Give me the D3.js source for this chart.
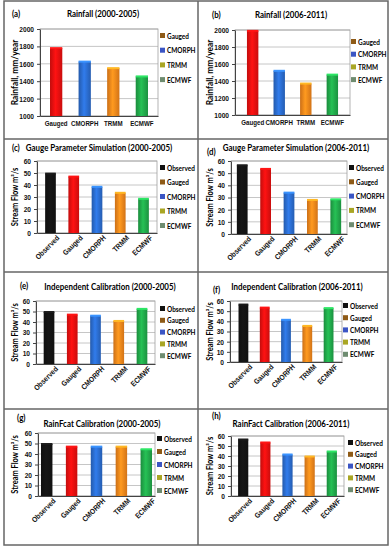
<!doctype html>
<html>
<head>
<meta charset="utf-8">
<script src="https://d3js.org/d3.v7.min.js"></script>
<style>
  body { margin: 0; background: #fff; }
  svg { font-family: Lato, "Liberation Sans", Arial, sans-serif; font-weight: bold; }
  .axis path, .axis line { stroke: #444; }
</style>
</head>
<body>
<div id="chart"></div>
<script>
// categories
const rainCats = ["Gauged", "CMORPH", "TRMM", "ECMWF"];
const flowCats = ["Observed", "Gauged", "CMORPH", "TRMM", "ECMWF"];

// values
const rainA = [1780, 1625, 1550, 1455];
const rainB = [1990, 1520, 1370, 1475];
const flowC = [49.5, 47, 38.5, 33.5, 28.5];
const flowD = [56.5, 53.5, 34, 28, 28.5];
const flowE = [49.5, 47, 46, 41, 52.5];
const flowF = [56.5, 53.5, 41.5, 35.5, 53];
const flowG = [49.5, 47, 47, 47, 44.5];
const flowH = [56.5, 53.5, 41.5, 39.5, 44.5];

const rainTicks = [1000, 1200, 1400, 1600, 1800, 2000];
const flowTicks = [0, 10, 20, 30, 40, 50, 60];

const letters = ["(a)", "(b)", "(c)", "(d)", "(e)", "(f)", "(g)", "(h)"];
const titles = ["Rainfall  (2000-2005)", "Rainfall (2006-2011)",
  "Gauge Parameter Simulation (2000-2005)", "Gauge Parameter Simulation (2006-2011)",
  "Independent Calibration (2000-2005)", "Independent Calibration (2006-2011)",
  "RainFcat Calibration (2000-2005)", "RainFact  Calibration (2006-2011)"];

// colours
const barColor = {Observed: "#141414", Gauged: "#f01010", CMORPH: "#2c6fd4", TRMM: "#fb8a1c", ECMWF: "#22ad4c"};
const keyColor = {Observed: "#111111", Gauged: "#8e5a16", CMORPH: "#3b55c4", TRMM: "#a9a624", ECMWF: "#6e8c70"};

// panel layout (absolute px)
const panels = [
  {cats: rainCats, vals: rainA, ticks: rainTicks, ylab: "Rainfall, mm/year", x0: 40, x1: 158, po: 0.35, top: 29, bot: 116, tx: 103, ty: 17, lx: 12, ly: 17, kx: 160, ky: 36, ks: 14.7, yl: 15, rot: false},
  {cats: rainCats, vals: rainB, ticks: rainTicks, ylab: "Rainfall, mm/year", x0: 235, x1: 350, po: 0.45, top: 30, bot: 115, tx: 291, ty: 18, lx: 212, ly: 18, kx: 351, ky: 42, ks: 12.7, yl: 210, rot: false},
  {cats: flowCats, vals: flowC, ticks: flowTicks, ylab: "Stream Flow m³/s", x0: 37, x1: 157, po: 0.35, top: 161, bot: 233, tx: 99, ty: 151, lx: 12, ly: 151, kx: 160, ky: 168, ks: 14.5, yl: 15, rot: true},
  {cats: flowCats, vals: flowD, ticks: flowTicks, ylab: "Stream Flow m³/s", x0: 231, x1: 347, po: 0.25, top: 161, bot: 234, tx: 296, ty: 151, lx: 207, ly: 155, kx: 349, ky: 168, ks: 14.3, yl: 210, rot: true},
  {cats: flowCats, vals: flowE, ticks: flowTicks, ylab: "Stream Flow m³/s", x0: 36, x1: 155, po: 0.33, top: 301, bot: 364, tx: 110, ty: 290, lx: 20, ly: 289, kx: 160, ky: 309, ks: 11.8, yl: 15, rot: true},
  {cats: flowCats, vals: flowF, ticks: flowTicks, ylab: "Stream Flow m³/s", x0: 230, x1: 342, po: 0.4, top: 301, bot: 362, tx: 297, ty: 290, lx: 213, ly: 293, kx: 343, ky: 306, ks: 12.2, yl: 210, rot: true},
  {cats: flowCats, vals: flowG, ticks: flowTicks, ylab: "Stream Flow m³/s", x0: 38, x1: 155, po: 0.12, top: 433, bot: 496, tx: 102, ty: 427, lx: 17, ly: 421, kx: 157, ky: 439, ks: 13, yl: 15, rot: true},
  {cats: flowCats, vals: flowH, ticks: flowTicks, ylab: "Stream Flow m³/s", x0: 231, x1: 344, po: 0.32, top: 436, bot: 496, tx: 291, ty: 427, lx: 212, ly: 419, kx: 348, ky: 443, ks: 11.8, yl: 210, rot: true}
];

const svg = d3.select("#chart").append("svg")
  .attr("width", 390).attr("height", 550);

// cylinder-like gradients for bars
const defs = svg.append("defs");
Object.keys(barColor).forEach(function(k) {
  const g = defs.append("linearGradient").attr("id", "g" + k)
    .attr("x1", "0%").attr("x2", "100%");
  const c = d3.color(barColor[k]);
  g.append("stop").attr("offset", "0%").attr("stop-color", c.darker(0.6));
  g.append("stop").attr("offset", "45%").attr("stop-color", c.brighter(0.3));
  g.append("stop").attr("offset", "100%").attr("stop-color", c.darker(0.5));
});

// panel frame lines
const frame = svg.append("g").attr("stroke", "#666").attr("stroke-width", 1.5).attr("fill", "none");
frame.append("rect").attr("x", 4).attr("y", 1).attr("width", 384).attr("height", 544);
frame.append("line").attr("x1", 198).attr("x2", 198).attr("y1", 1).attr("y2", 545);
[139, 272, 409].forEach(function(yy) {
  frame.append("line").attr("x1", 4).attr("x2", 388).attr("y1", yy).attr("y2", yy);
});

panels.forEach(function(p, i) {
  const g = svg.append("g");
  const dom = [p.ticks[0], p.ticks[p.ticks.length - 1]];

  const x = d3.scaleBand().domain(p.cats).range([p.x0, p.x1])
    .paddingInner(p.rot ? 0.54 : 0.57).paddingOuter(p.po);
  const y = d3.scaleLinear().domain(dom).range([p.bot, p.top]);

  // grid
  g.append("g").selectAll("line").data(p.ticks).enter().append("line")
    .attr("x1", p.x0).attr("x2", p.x1)
    .attr("y1", d => y(d)).attr("y2", d => y(d))
    .attr("stroke", "#b8b8b8").attr("stroke-width", 0.8);
  g.append("rect").attr("x", p.x0).attr("y", p.top)
    .attr("width", p.x1 - p.x0).attr("height", p.bot - p.top)
    .attr("fill", "none").attr("stroke", "#a0a0a0").attr("stroke-width", 0.8);

  // bars
  g.append("g").selectAll("rect").data(p.cats).enter().append("rect")
    .attr("x", d => x(d))
    .attr("width", x.bandwidth())
    .attr("y", (d, j) => y(p.vals[j]))
    .attr("height", (d, j) => y(dom[0]) - y(p.vals[j]))
    .attr("fill", d => "url(#g" + d + ")");
  g.append("g").selectAll("rect").data(p.cats).enter().append("rect")
    .attr("x", d => x(d))
    .attr("width", x.bandwidth())
    .attr("y", (d, j) => y(p.vals[j]) - 1)
    .attr("height", 2)
    .attr("fill", d => d3.color(barColor[d]).brighter(0.8));

  // y axis
  const ya = g.append("g").attr("class", "axis")
    .attr("transform", "translate(" + p.x0 + ",0)")
    .call(d3.axisLeft(y).tickValues(p.ticks).tickFormat(d3.format("d")).tickSize(3).tickSizeOuter(0));
  ya.selectAll("text").attr("font-size", 7.5).attr("font-family", "inherit").attr("font-weight", "bold").attr("fill", "#111");

  // x axis
  const xa = g.append("g").attr("class", "axis")
    .attr("transform", "translate(0," + p.bot + ")")
    .call(d3.axisBottom(x).tickSize(0).tickPadding(4).tickSizeOuter(0));
  xa.selectAll("text").attr("font-size", p.rot ? 7.5 : 7).attr("font-family", "inherit").attr("font-weight", "bold").attr("fill", "#111");
  if (p.rot) {
    xa.selectAll("text")
      .attr("text-anchor", "end")
      .attr("dy", "0.5em")
      .attr("transform", "translate(4,0) rotate(-45)");
  } else {
    xa.selectAll("text").attr("dy", "0.9em");
  }

  // titles
  g.append("text").attr("x", p.tx).attr("y", p.ty).attr("text-anchor", "middle")
    .attr("font-size", 9).text(titles[i]);
  g.append("text").attr("x", p.lx).attr("y", p.ly).attr("text-anchor", "start")
    .attr("font-size", 9).text(letters[i]);

  // y label
  const ymid = (p.top + p.bot) / 2;
  g.append("text").attr("transform", "translate(" + p.yl + "," + ymid + ") rotate(-90)")
    .attr("text-anchor", "middle").attr("dy", "0.35em")
    .attr("font-size", p.rot ? 8.5 : 9.5).text(p.ylab);

  // legend
  const leg = g.append("g").selectAll("g").data(p.cats).enter().append("g")
    .attr("transform", (d, j) => "translate(" + p.kx + "," + (p.ky + j * p.ks) + ")");
  leg.append("rect").attr("x", 0).attr("y", -3).attr("width", 5).attr("height", 5)
    .attr("fill", d => keyColor[d]);
  leg.append("text").attr("x", 7).attr("y", 0).attr("dy", "0.35em")
    .attr("font-size", 7.3).text(d => d);
});

// squeeze text a little, the source uses a narrow font
svg.selectAll("text").each(function() {
  const w = this.getComputedTextLength();
  d3.select(this).attr("textLength", w * 0.88).attr("lengthAdjust", "spacingAndGlyphs");
});
</script>
</body>
</html>
